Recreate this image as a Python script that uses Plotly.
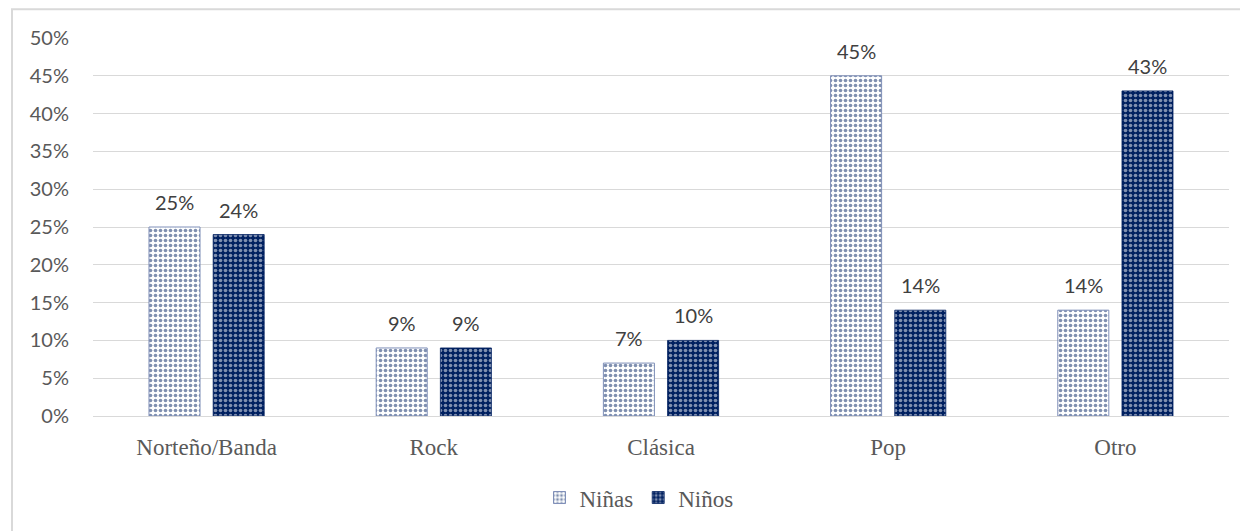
import plotly.graph_objects as go

categories = ["Norteño/Banda", "Rock", "Clásica", "Pop", "Otro"]
ninas = [25, 9, 7, 45, 14]
ninos = [24, 9, 10, 14, 43]
series_names = ["Niñas", "Niños"]
y_ticks = [0, 5, 10, 15, 20, 25, 30, 35, 40, 45, 50]
y_tick_labels = [f"{v}%" for v in y_ticks]

NAVY = "#002060"
SERIF = "Liberation Serif, Times New Roman, serif"
SANS = "Lato, Open Sans, sans-serif"

# page has an 8px body margin; figure is sized to fit the window
W, H = 1240, 523
L, R, T, B = 85, 19, 30, 113
pw, ph = W - L - R, H - T - B
PX0, PY0 = 8 + L, 8 + T  # page px of plot area's top-left


def px_x(px):
    return (px - PX0) / pw


def px_y(py):
    return (PY0 + ph - py) / ph


fig = go.Figure()
fig.add_trace(go.Bar(
    x=categories, y=ninas, name=series_names[0],
    marker=dict(color="white", line=dict(color="#7f8fb8", width=1),
                pattern=dict(shape=".", fgcolor=NAVY, bgcolor="white", size=5, solidity=0.42)),
))
fig.add_trace(go.Bar(
    x=categories, y=ninos, name=series_names[1],
    marker=dict(color=NAVY, line=dict(color=NAVY, width=0.8),
                pattern=dict(shape=".", fgcolor="white", bgcolor=NAVY, size=5, solidity=0.42)),
))

off = 0.1413
for i, c in enumerate(categories):
    for vals, d in ((ninas, -off), (ninos, off)):
        fig.add_annotation(x=i + d, y=vals[i], text=f"{vals[i]}%", showarrow=False,
                           yanchor="middle", yshift=25,
                           font=dict(family=SANS, size=20, color="#404040"))

fig.add_shape(type="rect", xref="paper", yref="paper",
              x0=px_x(12), x1=px_x(1262), y0=px_y(545), y1=px_y(9),
              line=dict(color="#d9d9d9", width=2), fillcolor="rgba(0,0,0,0)", layer="below")

fig.update_layout(
    width=W, height=H,
    margin=dict(l=L, r=R, t=T, b=B, pad=0),
    paper_bgcolor="white", plot_bgcolor="white",
    font=dict(family=SERIF, color="#595959"),
    barmode="group", bargap=0.435, bargroupgap=0.205,
    showlegend=True,
    legend=dict(orientation="h", x=px_x(639), xanchor="center", y=px_y(500), yanchor="middle",
                font=dict(family=SERIF, size=23, color="#595959"),
                itemwidth=30, traceorder="normal"),
    xaxis=dict(showgrid=False, showline=True, linecolor="#d9d9d9", linewidth=1,
               tickfont=dict(family=SERIF, size=23, color="#595959"),
               ticks="", ticklabelstandoff=10),
    yaxis=dict(range=[0, 50], tickvals=y_ticks, ticktext=y_tick_labels,
               showgrid=True, gridcolor="#d9d9d9", gridwidth=1, zeroline=False,
               showline=False, ticks="",
               tickfont=dict(family=SANS, size=20, color="#595959"),
               ticklabelstandoff=23),
)

fig.write_html("out.html")
